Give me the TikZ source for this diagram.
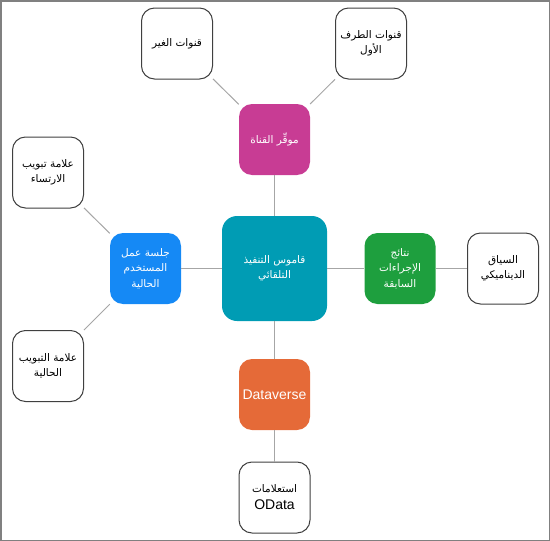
\documentclass[tikz,border=0pt]{standalone}
\usepackage{fontspec}
\setmainfont{Liberation Sans}
\newfontfamily\arabicfont[Script=Arabic]{DejaVu Sans}
\TeXXeTstate=1
\usetikzlibrary{positioning}

\definecolor{dictcol}{RGB}{0,156,180}
\definecolor{provcol}{RGB}{200,60,148}
\definecolor{sesscol}{RGB}{21,137,245}
\definecolor{rescol}{RGB}{30,159,62}
\definecolor{dvcol}{RGB}{229,106,56}
\definecolor{linkcol}{RGB}{166,166,166}
\definecolor{framecol}{RGB}{128,128,128}

\newcommand{\artext}[1]{{\arabicfont\beginR #1\endR}}

\tikzset{
    box/.style  = {rectangle, rounded corners = 13pt, minimum size = 71pt, inner sep = 2pt,
                   align = center, font = \fontsize{10.5}{15.5}\selectfont},
    leaf/.style = {box, draw = black!75, line width = 1pt, fill = white},
    hub/.style  = {box, fill = #1, text = white},
    link/.style = {draw = linkcol, line width = 1pt}
}

\begin{document}
\begin{tikzpicture}[x = 1pt, y = 1pt, node distance = 2cm, on grid]
                \useasboundingbox (0,0) rectangle (550,-541);
                \draw[framecol, line width = 1.5pt] (0.75,-0.75) rectangle (549.25,-540.25);

                \node[hub = dictcol, minimum size = 105pt, rounded corners = 15pt]
                                                                  (dict)    at (274.5,-268.5) {\artext{قاموس التنفيذ}\\\artext{التلقائي}};
                \node[hub = provcol, above = 129pt of dict]                   (prov)    {\artext{موفِّر القناة}};
                \node[leaf, above left = 96pt and 97.5pt of prov]             (prov_3p) {\artext{قنوات الغير}};
                \node[leaf, above right = 96pt and 96.5pt of prov]            (prov_1p) {\artext{قنوات الطرف}\\\artext{الأول}};
                \node[hub = sesscol, left = 129pt of dict]                    (sess)    {\artext{جلسة عمل}\\\artext{المستخدم}\\\artext{الحالية}};
                \node[leaf, above left = 96pt and 97.5pt of sess]             (tab_a)   {\artext{علامة تبويب}\\\artext{الارتساء}};
                \node[leaf, below left = 97.5pt and 97.5pt of sess]           (tab_c)   {\artext{علامة التبويب}\\\artext{الحالية}};
                \node[hub = rescol, right = 125.5pt of dict]                  (res)     {\artext{نتائج}\\\artext{الإجراءات}\\\artext{السابقة}};
                \node[leaf, right = 103pt of res]                             (ctx_d)   {\artext{السياق}\\\artext{الديناميكي}};
                \node[hub = dvcol, below = 126pt of dict, font = \fontsize{14}{17}\selectfont]
                                                                              (dv)      {Dataverse};
                \node[leaf, below = 103pt of dv, font = \fontsize{10.5}{17}\selectfont]
                                                                              (odata)   {\artext{استعلامات}\\{\fontsize{14}{17}\selectfont OData}};

                \draw[link]
                    (dict) edge (prov)
                    (prov) edge (prov_3p)
                    (prov) edge (prov_1p)
                    (dict) edge (sess)
                    (sess) edge (tab_a)
                    (sess) edge (tab_c)
                    (dict) edge (res)
                    (res)  edge (ctx_d)
                    (dict) edge (dv)
                    (dv)   edge (odata)
                    ;
\end{tikzpicture}
\end{document}
